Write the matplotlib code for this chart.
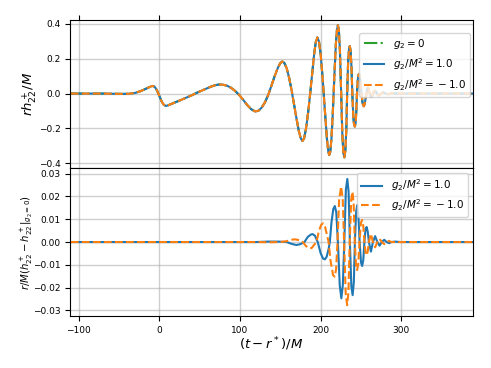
import matplotlib
matplotlib.use('Agg')
import matplotlib.pyplot as plt

# top panel: r h22+ / M (all three runs overlap at this scale)
t_top = [-110, -70, -55, -45, -38, -30, -24, -18, -13, -9, -6, -3, 0, 3, 5.5, 8, 11, 16, 24, 32,
         40, 48, 56, 63, 69, 74, 79, 84, 89, 94, 99, 104, 109, 114, 119, 123, 127, 131, 135, 139,
         143, 147, 150, 152.5, 155, 158, 161, 164, 167, 170, 173, 175.5, 177.5, 179.5, 182, 184.5,
         187, 189.5, 192, 194, 196, 198, 200, 202, 204, 206, 208, 209.5, 210.7, 212, 213.5, 215,
         216.2, 217.5, 219, 220.3, 221.5, 222.7, 224, 225.5, 227, 228.3, 229.5, 230.7, 232, 233,
         234.2, 235.3, 236.3, 237.3, 238.4, 239.4, 240.5, 241.5, 242.5, 243.5, 244.4, 245.2, 246.2,
         247, 247.8, 248.8, 249.8, 250.8, 252, 253, 253.8, 254.8, 256, 257, 258, 258.8, 260, 261,
         262.5, 263.5, 265, 266.5, 267.5, 268.5, 270, 271.5, 272.5, 273.5, 275, 278, 281, 284, 287,
         290, 293, 300, 390]
h_top = [0.0, 0.0, -0.001, -0.002, -0.001, 0.004, 0.013, 0.025, 0.036, 0.044, 0.040, 0.018, -0.015,
         -0.048, -0.065, -0.071, -0.067, -0.057, -0.042, -0.026, -0.010, 0.008, 0.024, 0.038, 0.048,
         0.052, 0.051, 0.045, 0.033, 0.015, -0.008, -0.036, -0.066, -0.090, -0.103, -0.098, -0.080,
         -0.050, -0.008, 0.045, 0.100, 0.148, 0.175, 0.184, 0.176, 0.145, 0.090, 0.020, -0.060,
         -0.140, -0.215, -0.258, -0.272, -0.258, -0.200, -0.110, -0.005, 0.110, 0.225, 0.295, 0.322,
         0.300, 0.230, 0.120, -0.005, -0.140, -0.265, -0.330, -0.352, -0.335, -0.260, -0.130, 0.0,
         0.140, 0.285, 0.365, 0.392, 0.365, 0.250, 0.0, -0.230, -0.340, -0.366, -0.330, -0.200, 0.0,
         0.180, 0.255, 0.272, 0.245, 0.150, 0.0, -0.120, -0.175, -0.190, -0.170, -0.100, 0.0, 0.080,
         0.106, 0.113, 0.095, 0.050, 0.0, -0.050, -0.070, -0.073, -0.060, -0.025, 0.0, 0.026, 0.034,
         0.022, 0.0, -0.018, -0.020, 0.0, 0.013, 0.016, 0.013, 0.0, -0.009, -0.010, -0.008, 0.0,
         0.007, 0.0, -0.004, 0.0, 0.002, 0.0, 0.0, 0.0]

# bottom panel: difference to g2 = 0
t_pos = [-110, 120, 135, 148, 158, 164, 170, 175, 180, 184, 188, 190, 193, 196.5, 200, 203, 205.3,
         207.5, 210, 211.5, 213.5, 215.8, 217.7, 219.5, 221.5, 223.8, 225.8, 227.6, 229.5, 231.4,
         233.2, 234.8, 236.4, 238.2, 239.8, 241.3, 242.6, 244.2, 245.5, 246.9, 248.5, 250.2, 251.6,
         253, 254.4, 255.8, 257.2, 258.6, 260, 262.5, 265, 267.7, 270.5, 273.2, 276, 279, 282, 285,
         288, 292, 300, 390]
d_pos = [0.0, 0.0, 0.0002, 0.0002, 0.0, -0.0008, -0.0013, -0.0009, 0.0, 0.0022, 0.0033, 0.0035,
         0.0028, 0.0, -0.0048, -0.0072, -0.0076, -0.0065, -0.0030, 0.0, 0.0085, 0.0145, 0.0158,
         0.0130, 0.0, -0.0190, -0.0247, -0.0190, 0.0, 0.0230, 0.0277, 0.0220, 0.0, -0.0195, -0.0233,
         -0.0175, 0.0, 0.0135, 0.0162, 0.0120, 0.0, -0.0090, -0.0105, -0.0080, 0.0, 0.0058, 0.0066,
         0.0045, 0.0, -0.0042, 0.0, 0.0026, 0.0, -0.0016, 0.0, 0.0010, 0.0, -0.0005, 0.0, 0.0002,
         0.0, 0.0]

t_neg = [-110, 120, 135, 150, 158, 164, 168, 174, 178, 182, 186.5, 189, 192, 195, 198, 201, 203.2,
         205.5, 208, 210, 212.5, 215.5, 217.5, 219.3, 221, 223, 225.5, 227.5, 229.2, 231.2, 233,
         234.6, 236.2, 238, 239.6, 241.1, 242.5, 244, 245.4, 246.8, 248.3, 250, 251.5, 253, 254.4,
         256, 257.3, 258.6, 260, 262.5, 265, 267.7, 270.5, 273.2, 276, 279, 282, 285, 288, 300, 390]
d_neg = [0.0, 0.0, -0.0001, 0.0, 0.0004, 0.0010, 0.0012, 0.0008, 0.0, -0.0018, -0.0028, -0.0026,
         -0.0012, 0.0, 0.0050, 0.0077, 0.0082, 0.0068, 0.0030, 0.0, -0.0085, -0.0145, -0.0152,
         -0.0120, 0.0, 0.0185, 0.0243, 0.0190, 0.0, -0.0225, -0.0277, -0.0220, 0.0, 0.0185, 0.0221,
         0.0165, 0.0, -0.0105, -0.0123, -0.0095, 0.0, 0.0082, 0.0097, 0.0072, 0.0, -0.0050, -0.0058,
         -0.0040, 0.0, 0.0036, 0.0, -0.0023, 0.0, 0.0014, 0.0, -0.0009, 0.0, 0.0005, 0.0, 0.0, 0.0]

lab_0 = r'$g_2=0$'
lab_pos = r'$g_2/M^2=1.0$'
lab_neg = r'$g_2/M^2={}-1.0$'

fig, (ax1, ax2) = plt.subplots(2, 1, sharex=True, figsize=(4.91, 3.68), dpi=100)
fig.subplots_adjust(left=0.1426, right=0.963, top=0.946, bottom=0.141, hspace=0)

ax1.plot(t_top, h_top, '-.', color='C2', lw=1.5, label=lab_0)
ax1.plot(t_top, h_top, '-', color='C0', lw=1.5, label=lab_pos)
ax1.plot(t_top, h_top, '--', color='C1', lw=1.5, label=lab_neg)
ax1.set_ylabel(r'$rh^+_{22}/M$', fontsize=9.5)
ax1.yaxis.set_label_coords(-0.077, 0.5)
ax1.set_ylim(-0.427, 0.423)
ax1.set_yticks([-0.4, -0.2, 0.0, 0.2, 0.4])
ax1.legend(loc='upper right', bbox_to_anchor=(0.9926, 0.912), borderaxespad=0, fontsize=7.5)
ax1.tick_params(axis='x', top=True, bottom=False, labelbottom=False)

ax2.plot(t_pos, d_pos, '-', color='C0', lw=1.5, label=lab_pos)
ax2.plot(t_neg, d_neg, '--', color='C1', lw=1.5, label=lab_neg)
ax2.set_ylabel(r'$r/M(h^+_{22}-h^+_{22}|_{g_2=0})$', fontsize=7.3)
ax2.yaxis.set_label_coords(-0.088, 0.5)
ax2.set_xlabel(r'$(t-r^*)/M$', fontsize=9.5)
ax2.xaxis.set_label_coords(0.5, -0.13)
ax2.set_ylim(-0.0325, 0.0325)
ax2.set_xlim(-111, 389)
ax2.legend(loc='upper right', fontsize=7.5, labelspacing=0.35)

for ax in (ax1, ax2):
    ax.grid(True, color='#b0b0b0', alpha=0.6, lw=1)
    ax.tick_params(labelsize=6.5)

fig.savefig('out.png', dpi=100)
